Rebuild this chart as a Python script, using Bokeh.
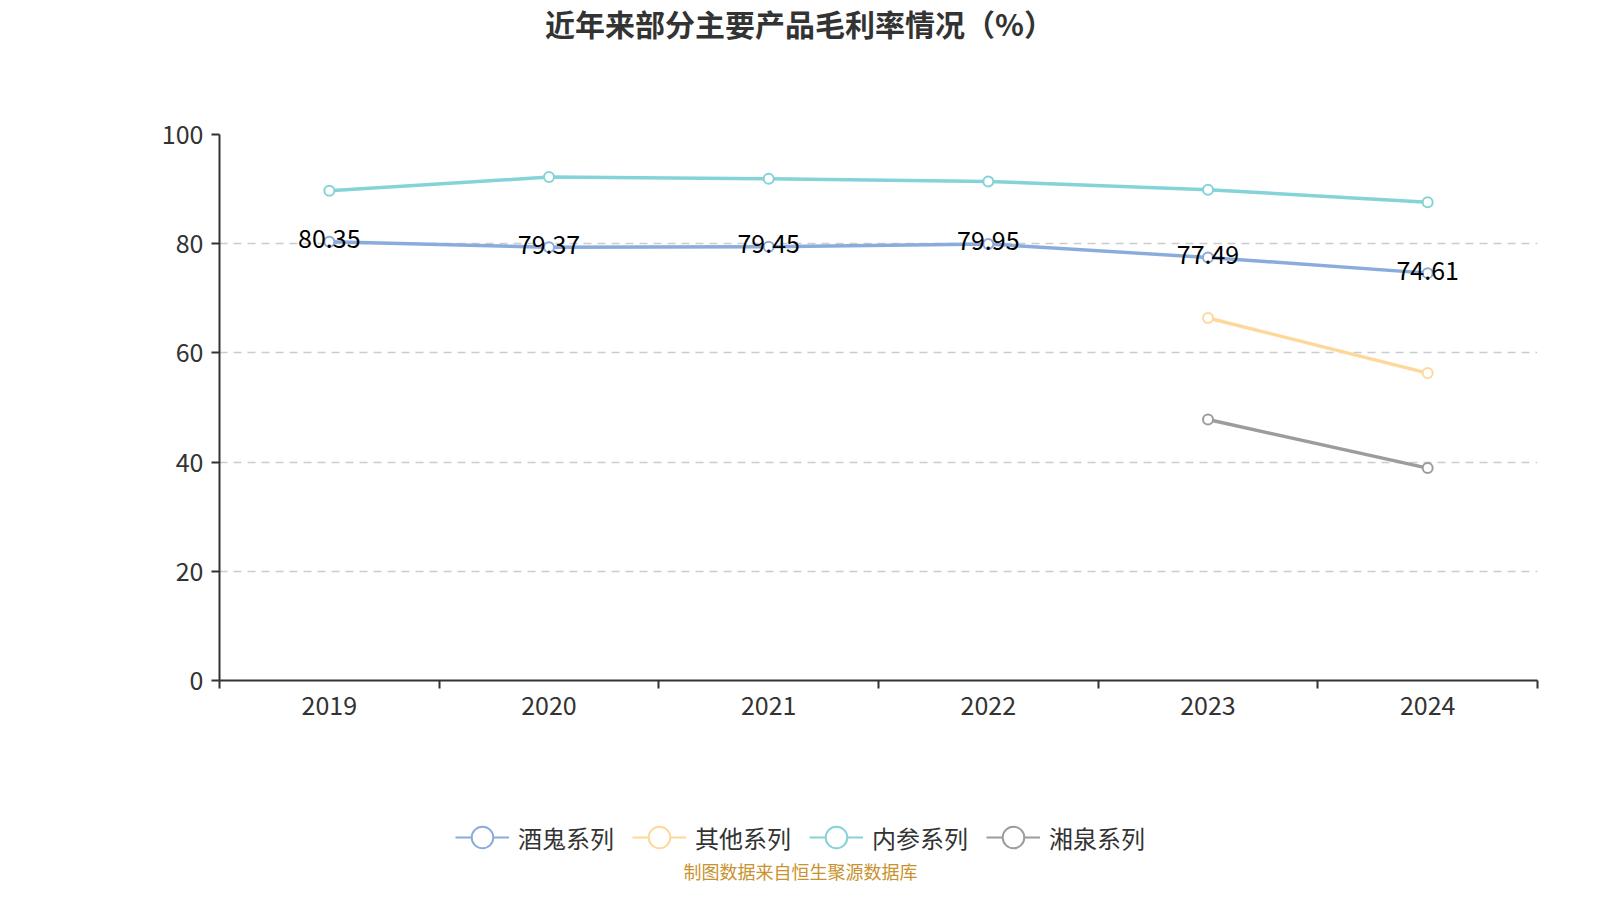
from bokeh.plotting import figure
from bokeh.layouts import column
from bokeh.models import (Range1d, LinearAxis, FixedTicker, Label,
                          Legend, LegendItem, ColumnDataSource, Grid)
from bokeh.core.properties import value
from bokeh.embed import file_html
from bokeh.resources import INLINE

# ---------------- data ----------------
years = ["2019", "2020", "2021", "2022", "2023", "2024"]
jiugui = [80.35, 79.37, 79.45, 79.95, 77.49, 74.61]
qita = [None, None, None, None, 66.4, 56.3]
neican = [89.7, 92.2, 91.9, 91.4, 89.9, 87.6]
xiangquan = [None, None, None, None, 47.8, 38.9]
series_names = ["酒鬼系列", "其他系列", "内参系列", "湘泉系列"]
y_ticks = [0, 20, 40, 60, 80, 100]

title_text = "近年来部分主要产品毛利率情况（%）"
source_text = "制图数据来自恒生聚源数据库"

colors = ["#8aacdc", "#fed89a", "#84d3d6", "#9c9c9c"]
FONT = "Noto Sans CJK SC"

W = 1584
H_TOP, H_MAIN, H_BOT = 114, 626, 144
ML, MR, MT, MB = 219, 47, 20, 60


def strip(height):
    f = figure(width=W, height=height, x_range=Range1d(0, 1),
               y_range=Range1d(0, 1), output_backend="svg",
               toolbar_location=None, x_axis_location=None,
               y_axis_location=None, min_border=0,
               background_fill_color="white", border_fill_color="white")
    f.outline_line_color = None
    f.center = [c for c in f.center if not isinstance(c, Grid)]
    return f


# ---------------- title strip ----------------
# (the column aligns this strip's frame with the main frame, so screen x is
#  measured from the main plot's left border)
top = strip(H_TOP)
top.add_layout(Label(x=799 - ML, y=H_TOP - 22.5, x_units="screen",
                     y_units="screen", text=title_text, text_align="center",
                     text_baseline="middle", text_font=FONT,
                     text_font_size="30px", text_font_style="bold",
                     text_color="#333333"))

# ---------------- main chart ----------------
xpos = [i + 0.5 for i in range(len(years))]   # category slot centres
bounds = list(range(len(years) + 1))           # category slot edges

p = figure(width=W, height=H_MAIN,
           x_range=Range1d(0, len(years)),
           y_range=Range1d(0, 100),
           output_backend="svg", toolbar_location=None,
           x_axis_location=None, y_axis_location=None,
           min_border_left=ML, min_border_right=MR,
           min_border_top=MT, min_border_bottom=MB,
           background_fill_color="white", border_fill_color="white")
p.outline_line_color = None
p.center = [c for c in p.center if not isinstance(c, Grid)]

grid = Grid(dimension=1, ticker=FixedTicker(ticks=y_ticks[1:]),
            grid_line_color="#cccccc", grid_line_width=1.5,
            grid_line_dash="8 6")
p.add_layout(grid, "center")

yaxis = LinearAxis(ticker=FixedTicker(ticks=y_ticks),
                   axis_line_color="#333333", axis_line_width=2,
                   major_tick_out=8, major_tick_in=0,
                   major_tick_line_color="#333333", major_tick_line_width=2,
                   minor_tick_out=0, minor_tick_in=0,
                   major_label_text_font=FONT,
                   major_label_text_font_size="25px",
                   major_label_text_color="#333333",
                   major_label_standoff=8)
p.add_layout(yaxis, "left")

xaxis = LinearAxis(ticker=FixedTicker(ticks=xpos, minor_ticks=bounds),
                   major_label_overrides={c: y for c, y in zip(xpos, years)},
                   axis_line_color="#333333", axis_line_width=2,
                   major_tick_out=0, major_tick_in=0,
                   minor_tick_out=8, minor_tick_in=0,
                   minor_tick_line_color="#333333", minor_tick_line_width=2,
                   major_label_text_font=FONT,
                   major_label_text_font_size="25px",
                   major_label_text_color="#333333",
                   major_label_standoff=7)
p.add_layout(xaxis, "below")

nan = float("nan")
all_series = [jiugui, qita, neican, xiangquan]
for vals, col in zip(all_series, colors):
    ys = [nan if v is None else v for v in vals]
    src = ColumnDataSource(dict(x=xpos, y=ys))
    p.line("x", "y", source=src, line_color=col, line_width=3.5)
    p.scatter("x", "y", source=src, marker="circle", size=10,
              fill_color="white", line_color=col, line_width=2)

lab_src = ColumnDataSource(dict(x=xpos, y=jiugui,
                                t=[f"{v:.2f}" for v in jiugui]))
p.text("x", "y", text="t", source=lab_src, text_align="center",
       text_baseline="middle", y_offset=-3, text_color="#000000",
       text_font=value(FONT), text_font_size="25px")

# ---------------- legend + source strip ----------------
bot = strip(H_BOT)
items = []
for name, col in zip(series_names, colors):
    proxy = ColumnDataSource(dict(x=[nan], y=[nan]))
    lr = bot.line("x", "y", source=proxy, line_color=col, line_width=2)
    sr = bot.scatter("x", "y", source=proxy, marker="circle", size=20,
                     fill_color="white", line_color=col, line_width=2)
    items.append(LegendItem(label=name, renderers=[lr, sr]))

legend = Legend(items=items, orientation="horizontal",
                location=(455 - ML, 20),
                glyph_width=54, glyph_height=54,
                label_text_font=FONT, label_text_font_size="24px",
                label_text_color="#333333", label_standoff=9,
                spacing=18, padding=0, margin=0,
                border_line_color=None, background_fill_alpha=0)
bot.add_layout(legend, "center")

bot.add_layout(Label(x=800 - ML, y=14, x_units="screen", y_units="screen",
                     text=source_text, text_align="center",
                     text_baseline="middle", text_font=FONT,
                     text_font_size="18px", text_color="#c9922e"))

layout = column(top, p, bot, spacing=0)
open("out.html", "w").write(file_html(layout, INLINE))
